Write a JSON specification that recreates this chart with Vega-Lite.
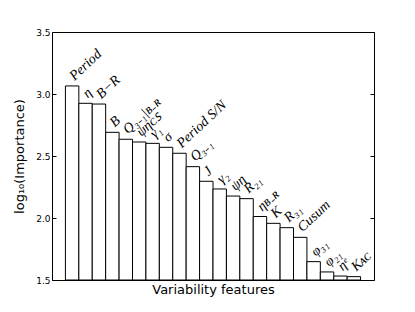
{
  "$schema": "https://vega.github.io/schema/vega-lite/v6.json",
  "width": 322,
  "height": 248,
  "autosize": {"type": "none"},
  "padding": {"left": 52, "top": 32, "right": 41, "bottom": 32},
  "background": "white",
  "config": {
    "view": {"stroke": "black", "strokeWidth": 1},
    "axis": {"labelFont": "DejaVu Sans", "titleFont": "DejaVu Sans", "grid": false}
  },
  "data": {
    "values": [
      {"feature": "Period", "importance": 3.065},
      {"feature": "η", "importance": 2.925},
      {"feature": "B−R", "importance": 2.919},
      {"feature": "B", "importance": 2.691},
      {"feature": "Q₃₋₁|ʙ₋ʀ", "importance": 2.635},
      {"feature": "ψηᴄꜱ", "importance": 2.613},
      {"feature": "γ₁", "importance": 2.602},
      {"feature": "σ", "importance": 2.570},
      {"feature": "Period S/N", "importance": 2.522},
      {"feature": "Q₃₋₁", "importance": 2.414},
      {"feature": "J", "importance": 2.296},
      {"feature": "γ₂", "importance": 2.234},
      {"feature": "ψη", "importance": 2.177},
      {"feature": "R₂₁", "importance": 2.156},
      {"feature": "ηʙ₋ʀ", "importance": 2.012},
      {"feature": "K", "importance": 1.957},
      {"feature": "R₃₁", "importance": 1.922},
      {"feature": "Cusum", "importance": 1.844},
      {"feature": "φ₃₁", "importance": 1.648},
      {"feature": "φ₂₁", "importance": 1.565},
      {"feature": "ηᵉ", "importance": 1.532},
      {"feature": "Kᴀᴄ", "importance": 1.527}
    ]
  },
  "encoding": {
    "x": {
      "field": "feature",
      "type": "nominal",
      "sort": null,
      "scale": {"paddingInner": 0, "paddingOuter": 1},
      "axis": {
        "labels": false, "ticks": false, "domain": false,
        "title": "Variability features", "titleFontSize": 13, "titleFontWeight": "normal",
        "titlePadding": 3, "titleColor": "black"
      }
    },
    "y": {
      "field": "importance",
      "type": "quantitative",
      "scale": {"domain": [1.5, 3.5], "zero": false, "nice": false},
      "axis": {
        "values": [1.5, 2.0, 2.5, 3.0, 3.5],
        "format": ".1f",
        "tickSize": -4,
        "tickColor": "black",
        "labelPadding": 6,
        "labelFontSize": 9,
        "labelColor": "black",
        "domain": false,
        "title": "log₁₀(Importance)",
        "titleFontSize": 13,
        "titleFontWeight": "normal",
        "titleColor": "black",
        "titlePadding": 9
      }
    }
  },
  "layer": [
    {
      "mark": {"type": "bar", "fill": "white", "stroke": "black", "strokeWidth": 1},
      "encoding": {"y2": {"datum": 1.5}}
    },
    {
      "mark": {
        "type": "text", "angle": -43, "align": "left", "baseline": "alphabetic",
        "font": "Liberation Serif", "fontStyle": "italic", "fontSize": 14,
        "dx": 5, "dy": -2, "color": "black"
      },
      "encoding": {
        "text": {"field": "feature"},
        "y": {
          "field": "importance", "type": "quantitative",
          "axis": {
            "orient": "right", "labels": false, "title": null, "domain": false,
            "values": [1.5, 2.0, 2.5, 3.0, 3.5], "tickSize": -4, "tickColor": "black"
          }
        }
      }
    }
  ],
  "resolve": {"axis": {"y": "independent"}}
}
